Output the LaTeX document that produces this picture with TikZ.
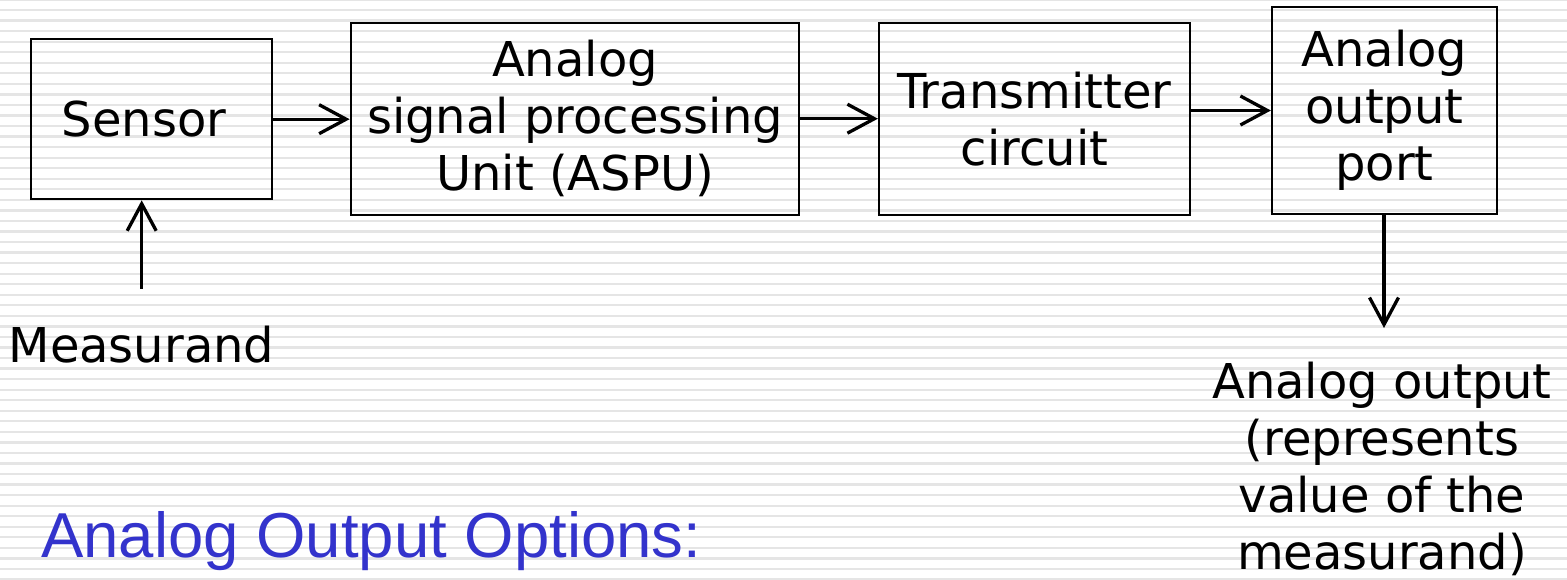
\documentclass[tikz,border=0pt]{standalone}
\usepackage{fontspec}
\setmainfont{DejaVu Sans}
\newfontfamily\headfont{Liberation Sans}
\usetikzlibrary{arrows.meta}
\definecolor{stripe}{RGB}{229,229,229}
\definecolor{headblue}{RGB}{51,51,204}
\tikzset{
  box/.style={draw=black, line width=2.2pt, inner sep=0pt, align=center,
    font=\fontsize{48}{57}\selectfont},
  lbl/.style={inner sep=0pt, align=center, font=\fontsize{48}{57}\selectfont},
  conn/.style={line width=3.3pt, -{Straight Barb[length=27pt,width=29pt,line width=3.3pt]}},
}
\begin{document}
\begin{tikzpicture}[x=1pt,y=-1pt]
\useasboundingbox (0,0) rectangle (1567,580);
\fill[white] (0,0) rectangle (1567,580);
\begin{scope}
\clip (0,0) rectangle (1567,580);
\foreach \k in {0,...,55}{
  \draw[stripe, line width=2.3pt] (0,{-0.5+10.545*\k}) -- (1567,{-0.5+10.545*\k});
}
\end{scope}

\node[box, minimum width=241pt, minimum height=160pt] (sensor) at (151.5,119.2) {Sensor\hspace{15pt}};
\node[box, minimum width=448.6pt, minimum height=192pt] (aspu) at (575,118.7) {Analog\\signal processing\\Unit (ASPU)};
\node[box, minimum width=311pt, minimum height=191.7pt] (trans) at (1034.5,119.2) {Transmitter\\circuit};
\node[box, minimum width=225pt, minimum height=207.6pt] (port) at (1384.5,110.5) {Analog\\output\\port};

\node[lbl, anchor=base] (meas) at (141.5,362) {Measurand};
\node[lbl, anchor=north] (aout) at (1382,362) {Analog output\\(represents\\value of the\\measurand)};
\node[inner sep=0pt, anchor=base west, text=headblue, font=\headfont\fontsize{63.5}{70}\selectfont] (head) at (41,557) {Analog Output Options:};

\coordinate (measin) at (141.7,289);
\coordinate (outend) at (1384,328);

\draw[conn] (measin) -- (measin |- sensor.south);
\draw[conn] (sensor.east) -- (sensor.east -| aspu.west);
\draw[conn] (aspu.east) -- (aspu.east -| trans.west);
\draw[conn] (trans.east |- port.west) -- (port.west);
\draw[conn] (port.south -| outend) -- (outend);
\end{tikzpicture}
\end{document}
